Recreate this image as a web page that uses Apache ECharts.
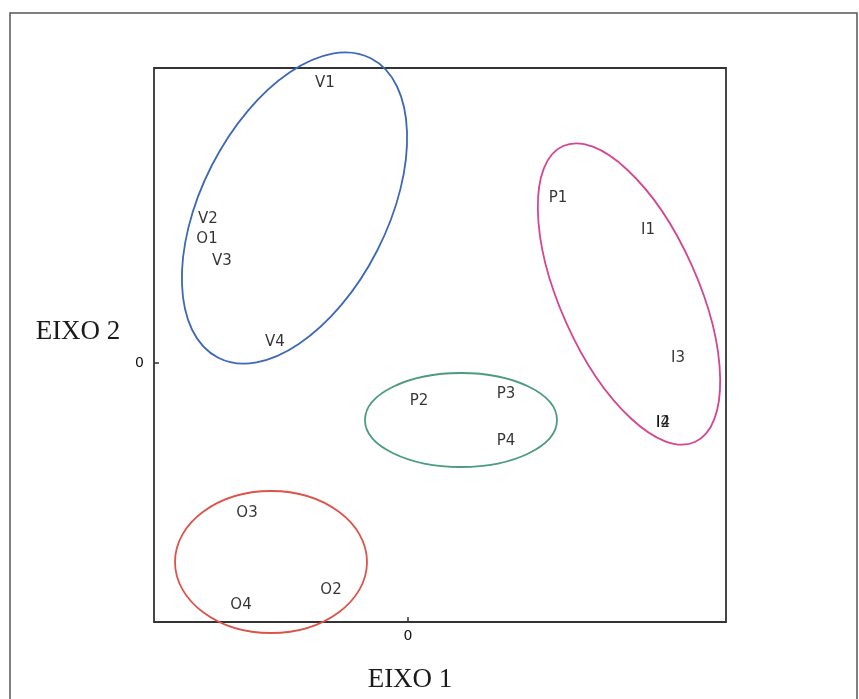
<!DOCTYPE html>
<html>
<head>
<meta charset="utf-8">
<script src="https://cdn.jsdelivr.net/npm/echarts@6/dist/echarts.min.js"></script>
<style>
  html, body { margin: 0; padding: 0; background: #fff; }
  #chart { width: 859px; height: 699px; }
</style>
</head>
<body>
<div id="chart"></div>
<script>
// point labels and their positions on the two axes
const names = ['V1', 'V2', 'O1', 'V3', 'V4', 'P1', 'I1', 'I3', 'I2', 'I4', 'P2', 'P3', 'P4', 'O3', 'O2', 'O4']
const eixo1 = [-0.83, -2.00, -2.01, -1.86, -1.33, 1.50, 2.40, 2.70, 2.55, 2.55, 0.11, 0.98, 0.98, -1.61, -0.77, -1.67]
const eixo2 = [2.80, 1.44, 1.24, 1.02, 0.21, 1.65, 1.33, 0.05, -0.60, -0.60, -0.38, -0.31, -0.78, -1.50, -2.27, -2.42]

// group ellipses: centre, semi axes, tilt in degrees
const groupCx = [-1.135, 2.21, 0.53, -1.37]
const groupCy = [1.55, 0.69, -0.57, -1.99]
const groupA = [1.68, 1.62, 0.96, 0.96]
const groupB = [0.93, 0.69, 0.47, 0.71]
const groupTilt = [63, 114, 0, 0]
const groupColors = ['#3d68b8', '#d4468f', '#4b9b7c', '#dc5349']

const chart = echarts.init(document.getElementById('chart'))

const points = names.map((n, i) => [eixo1[i], eixo2[i], n])
const groups = groupCx.map((cx, i) => [cx, groupCy[i], groupA[i], groupB[i], groupTilt[i], i])

const titleStyle = { fontFamily: 'Liberation Serif', fontSize: 27, fill: '#1a1a1a' }

chart.setOption({
  animation: false,
  grid: { left: 154, right: 133, top: 68, bottom: 77, show: true, borderColor: '#333', borderWidth: 1.8 },
  graphic: [
    {
      type: 'rect',
      shape: { x: 10, y: 13, width: 847, height: 720 },
      style: { fill: 'none', stroke: '#555', lineWidth: 1.5 },
      silent: true
    },
    { type: 'text', x: 410, y: 680, style: Object.assign({ text: 'EIXO 1', align: 'center', verticalAlign: 'middle' }, titleStyle) },
    { type: 'text', x: 78, y: 332, style: Object.assign({ text: 'EIXO 2', align: 'center', verticalAlign: 'middle' }, titleStyle) }
  ],
  xAxis: {
    type: 'value',
    min: -2.54,
    max: 3.18,
    axisLine: { show: false, onZero: false },
    splitLine: { show: false },
    axisTick: { show: true, inside: true, length: 5, customValues: [0], lineStyle: { color: '#333', width: 1.5 } },
    axisLabel: { customValues: [0], fontFamily: 'DejaVu Sans', fontSize: 14, color: '#111', margin: 7 }
  },
  yAxis: {
    type: 'value',
    min: -2.59,
    max: 2.95,
    axisLine: { show: false, onZero: false },
    splitLine: { show: false },
    axisTick: { show: true, inside: true, length: 5, customValues: [0], lineStyle: { color: '#333', width: 1.5 } },
    axisLabel: { customValues: [0], fontFamily: 'DejaVu Sans', fontSize: 14, color: '#111', margin: 10 }
  },
  series: [
    {
      type: 'custom',
      clip: false,
      silent: true,
      data: groups,
      renderItem: (params, api) => {
        const c = api.coord([api.value(0), api.value(1)])
        const s = api.size([api.value(2), api.value(3)])
        return {
          type: 'ellipse',
          x: c[0],
          y: c[1],
          rotation: api.value(4) * Math.PI / 180,
          shape: { cx: 0, cy: 0, rx: s[0], ry: s[1] },
          style: { fill: 'none', stroke: groupColors[api.value(5)], lineWidth: 1.8 }
        }
      }
    },
    {
      type: 'scatter',
      symbolSize: 0,
      data: points,
      label: {
        show: true,
        position: 'inside',
        formatter: (p) => p.data[2],
        fontFamily: 'DejaVu Sans',
        fontSize: 15,
        color: '#000'
      }
    }
  ]
})
</script>
</body>
</html>
